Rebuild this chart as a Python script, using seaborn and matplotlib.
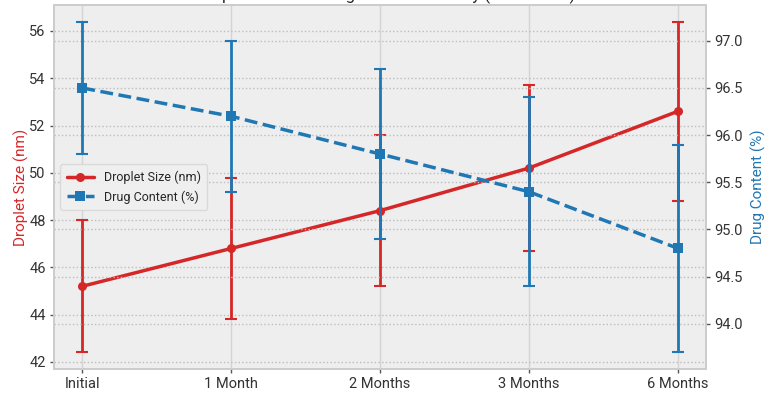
import pandas as pd
import matplotlib
matplotlib.use("Agg")
import matplotlib.pyplot as plt
import seaborn as sns

sns.set_theme(style="darkgrid")
plt.rcParams["font.family"] = ["Roboto", "DejaVu Sans"]

# data
timepoints = ["Initial", "1 Month", "2 Months", "3 Months", "6 Months"]
droplet_size = [45.2, 46.8, 48.4, 50.2, 52.6]
droplet_sd = [2.8, 3.0, 3.2, 3.5, 3.8]
drug_content = [96.5, 96.2, 95.8, 95.4, 94.8]
drug_sd = [0.7, 0.8, 0.9, 1.0, 1.1]

red = "#d62728"
blue = "#1f77b4"

df = pd.DataFrame({
    "pos": range(len(timepoints)),
    "time": timepoints,
    "size": droplet_size,
    "size_sd": droplet_sd,
    "drug": drug_content,
    "drug_sd": drug_sd,
})

fig = plt.figure(figsize=(7.72, 4.0), dpi=100)
ax = fig.add_axes([0.070, 0.0775, 0.8445, 0.91])
ax2 = ax.twinx()

for a in (ax, ax2):
    a.set_facecolor("#eeeeee")
    for s in a.spines.values():
        s.set_color("#cccccc")
        s.set_linewidth(1.2)
ax2.patch.set_visible(False)

# droplet size on left axis
ax.errorbar(df["pos"], df["size"], yerr=df["size_sd"], fmt="none",
            ecolor=red, elinewidth=2, capsize=4, capthick=1.5, zorder=2)
sns.lineplot(data=df, x="pos", y="size", ax=ax, color=red, lw=2.5,
             marker="o", markersize=6.5, markeredgewidth=0,
             label="Droplet Size (nm)", legend=False, zorder=3)

# drug content on right axis
ax2.errorbar(df["pos"], df["drug"], yerr=df["drug_sd"], fmt="none",
             ecolor=blue, elinewidth=2, capsize=4, capthick=1.5, zorder=2)
sns.lineplot(data=df, x="pos", y="drug", ax=ax2, color=blue, lw=2.5,
             linestyle="--", marker="s", markersize=6.5, markeredgewidth=0,
             label="Drug Content (%)", legend=False, zorder=3)

ax.set_xlim(-0.19, 4.19)
ax.set_ylim(41.7, 57.1)
ax2.set_ylim(93.52, 97.38)
ax.set_yticks([42, 44, 46, 48, 50, 52, 54, 56])
ax2.set_yticks([94.0, 94.5, 95.0, 95.5, 96.0, 96.5, 97.0])
ax2.set_yticklabels([f"{v:.1f}" for v in ax2.get_yticks()])
ax.set_xticks(df["pos"])
ax.set_xticklabels(timepoints)

ax.grid(axis="x", color="#d4d4d4", linestyle="-", linewidth=1)
ax.grid(axis="y", color="#bdbdbd", linestyle=":", linewidth=1)
ax2.grid(axis="y", color="#bdbdbd", linestyle=":", linewidth=1)
ax2.grid(axis="x", visible=False)

ax.tick_params(axis="both", labelsize=10.5, colors="#333333", length=3,
               width=1, direction="out", pad=3, left=True, bottom=True,
               color="#555555")
ax2.tick_params(axis="y", labelsize=10.5, colors="#333333", length=3,
                width=1, direction="out", pad=3, right=True, color="#555555")

ax.set_xlabel("")
ax.set_ylabel("Droplet Size (nm)", color=red, fontsize=11, labelpad=0)
ax2.set_ylabel("Drug Content (%)", color=blue, fontsize=11, labelpad=6)

h1, l1 = ax.get_legend_handles_labels()
h2, l2 = ax2.get_legend_handles_labels()
leg = ax2.legend(h1 + h2, l1 + l2, loc="center left", fontsize=9,
                 frameon=True, facecolor="#f0f0f0", edgecolor="#d8d8d8",
                 framealpha=0.9, borderpad=0.5, handlelength=2.2)

# title sits mostly above the canvas, as in the reference
fig.text(0.5, 1.0, "Droplet Size and Drug Content Stability (Mean ± SD)",
         ha="center", va="baseline", fontsize=12, color="#222222")

fig.savefig("out.png", dpi=100)
plt.close()
